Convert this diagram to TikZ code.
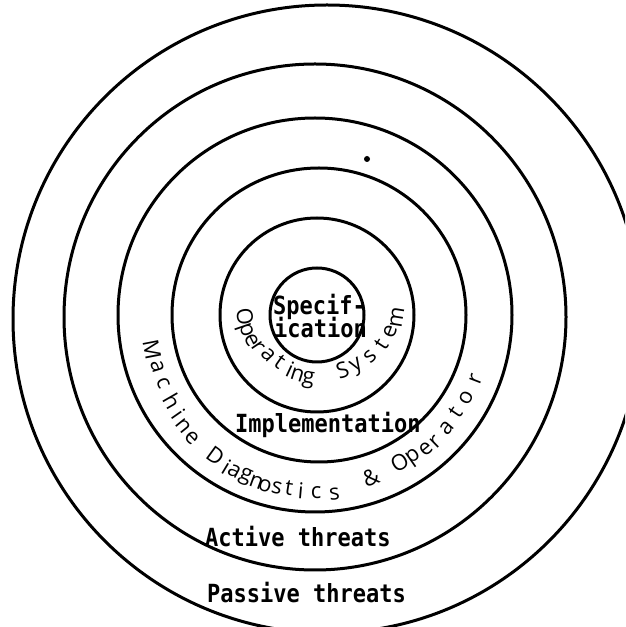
\documentclass[tikz,border=0pt]{standalone}
\usepackage{fontspec}
\newfontfamily\typed[FakeStretch=0.88]{DejaVu Sans Mono}
\newfontfamily\hand{Open Sans}

\begin{document}
\begin{tikzpicture}[
  x=1pt, y=1pt,
  ring/.style={black, line width=3pt},
  typed/.style={font=\typed\bfseries\fontsize{25}{25}\selectfont, inner sep=0pt,
    anchor=base west},
  handch/.style={font=\hand\fontsize{22}{22}\selectfont, inner sep=0pt}
]
\useasboundingbox (0,0) rectangle (625,627);
\clip (0,0) rectangle (625,627);

% The six nested rings (drawn by hand, so the centres drift a little).
\coordinate (r1) at (317,312);
\coordinate (r2) at (317,312);
\coordinate (r3) at (319,312);
\coordinate (r4) at (315,312);
\coordinate (r5) at (315,310);
\coordinate (r6) at (327,308);
\foreach \n/\rx/\ry in {1/47/47,2/97/97,3/147/147,4/197/197,5/251/253,6/314/314}
  \draw[ring] (r\n) ellipse[x radius=\rx, y radius=\ry];
\fill (367,468) circle[radius=3];

% Typed labels.
\node[typed] (spec) at (273,312) {Specif-};
\node[typed] (icat) at (274,289) {ication};
\node[typed] (impl) at (235,194) {Implementation};
\node[typed] (active) at (205,80) {Active threats};
\node[typed] (passive) at (207,24) {Passive threats};

% Hand-written labels bent round the rings, one letter at a time.
\coordinate (os) at (320,322);
\coordinate (md) at (316,309);
\foreach \ch/\a/\r [count=\k] in {O/189/76,p/199/80,e/207/77,r/214/75,
    a/224/72,t/235/70,i/245/71,n/252/73,g/261/76,S/289/69,y/301/72,
    s/314/72,t/327/73,e/339/75,m/351/78}
  \node[handch, rotate=\a+90] (os\k) at ([shift={(\a:\r)}]os) {\ch};
\foreach \ch/\a/\r [count=\k] in {M/191/167,a/197/166,c/203/166,h/210/166,
    i/215/167,n/219/171,e/224/173,D/234/171,i/239/174,a/242/174,g/246/174,
    n/250/175,o/253/175,s/257/174,t/261/172,i/265/173,c/270/175,s/276/177,
    {\&}/289/169,O/300/167,p/305/171,e/310/171,r/314/172,a/320/171,
    t/326/168,o/332/170,r/339/171}
  \node[handch, rotate=\a+90] (md\k) at ([shift={(\a:\r)}]md) {\ch};
\end{tikzpicture}
\end{document}
